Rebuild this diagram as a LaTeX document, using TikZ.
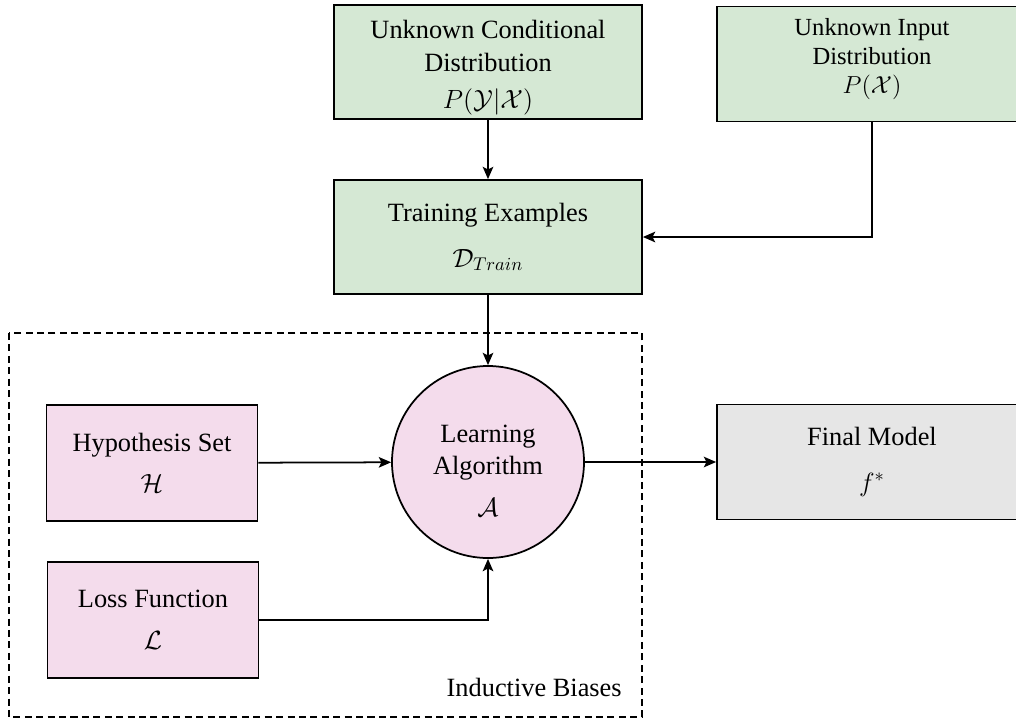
\RequirePackage{fix-cm}
\documentclass[tikz,border=0pt]{standalone}
\usepackage{amsmath}
\usepackage{fontspec}
\setmainfont{Liberation Serif}
\usetikzlibrary{arrows.meta}
\definecolor{datagreen}{HTML}{D5E8D4}
\definecolor{biaspink}{HTML}{F4DCEC}
\definecolor{modelgray}{HTML}{E6E6E6}

\begin{document}
\begin{tikzpicture}[
  x=0.2mm, y=-0.2mm,
  box/.style={draw, line width=1pt, align=center, inner sep=0pt,
    minimum width=61.6mm, minimum height=22.8mm, font=\fontsize{15}{18}\selectfont},
  bias/.style={box, fill=biaspink, minimum width=42.2mm, minimum height=23.2mm},
  arr/.style={-{Stealth[length=7pt, width=6pt, inset=1.5pt]}, line width=1pt}
]
  \clip (0,0) rectangle (1016,718);

  \node[box, fill=datagreen, font=\fontsize{15}{18.5}\selectfont] (cond) at (488,62)
    {\rule{0pt}{17pt}Unknown Conditional\\ Distribution\\[3pt] $P(\mathcal{Y}|\mathcal{X})$};
  \node[box, fill=datagreen, minimum width=62mm, minimum height=23mm,
    font=\fontsize{14}{16.5}\selectfont] (inp) at (872,64)
    {Unknown Input\\ Distribution\\ $P(\mathcal{X})$\rule[-9pt]{0pt}{0pt}};
  \node[box, fill=datagreen] (train) at (488,237)
    {Training Examples\\[8pt] $\mathcal{D}_{Train}$};

  \draw[dashed, line width=1pt, dash pattern=on 4pt off 2.5pt] (9,333) rectangle (642,717);
  \node[font=\fontsize{15}{18}\selectfont, anchor=base east, inner sep=0pt] (ib) at (622,696)
    {Inductive Biases};

  \node[bias] (hyp) at (152,463) {Hypothesis Set\\[5pt] $\mathcal{H}$};
  \node[bias] (loss) at (153,620) {Loss Function\\[6pt] $\mathcal{L}$};
  \node[circle, draw, line width=1pt, fill=biaspink, minimum size=38.4mm, inner sep=0pt,
    align=center, font=\fontsize{15}{18}\selectfont] (alg) at (488,462)
    {\rule{0pt}{20pt}Learning\\ Algorithm\\[6pt] $\mathcal{A}$};
  \node[box, fill=modelgray, minimum width=62mm, minimum height=23mm] (final) at (872,462)
    {Final Model\\[8pt] $f^{*}$};

  \draw[arr] (cond) -- (train);
  \draw[arr] (inp.south) |- (train.east);
  \draw[arr] (train) -- (alg);
  \draw[arr] (hyp) -- (alg);
  \draw[arr] (loss.east) -| (alg.south);
  \draw[arr] (alg) -- (final);
\end{tikzpicture}
\end{document}
